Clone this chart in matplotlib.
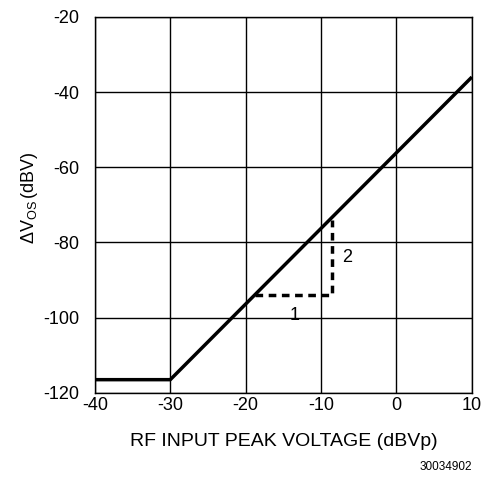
import matplotlib.pyplot as plt

plt.rcParams['font.family'] = ['Liberation Sans', 'DejaVu Sans']
plt.rcParams['axes.unicode_minus'] = False
plt.rcParams['mathtext.fontset'] = 'custom'
plt.rcParams['mathtext.rm'] = 'Liberation Sans'

# main response curve (breakpoints)
vin = [-40, -30, 10]
dvos = [-116.5, -116.5, -36]

# dashed slope triangle
tri_x = [-18.8, -8.6, -8.6]
tri_y = [-94, -94, -74]

xticks = [-40, -30, -20, -10, 0, 10]
yticks = [-120, -100, -80, -60, -40, -20]

fig = plt.figure(figsize=(4.84, 4.82), dpi=100)
ax = fig.add_axes([0.196, 0.185, 0.779, 0.78])

ax.plot(vin, dvos, color='black', lw=2.5, solid_capstyle='butt')
ax.plot(tri_x, tri_y, color='black', lw=2.5, ls=(0, (2.2, 1.6)))
ax.text(-13.5, -99.5, '1', fontsize=13, ha='center', va='center')
ax.text(-6.6, -84, '2', fontsize=13, ha='center', va='center')

ax.set_xlim(-40, 10)
ax.set_ylim(-120, -20)
ax.set_xticks(xticks)
ax.set_yticks(yticks)
ax.tick_params(axis='x', length=0, labelsize=13, pad=3)
ax.tick_params(axis='y', length=0, labelsize=13, pad=11)
ax.grid(True, color='black', lw=1)
for s in ax.spines.values():
    s.set_linewidth(1)

ax.set_xlabel('RF INPUT PEAK VOLTAGE (dBVp)', fontsize=14, labelpad=14)
ax.set_ylabel(r'$\Delta\mathrm{V}_{\mathrm{OS}}\,$(dBV)', fontsize=13, labelpad=8)
ax.yaxis.set_label_coords(-0.145, 0.52)
fig.text(0.975, 0.025, '30034902', fontsize=8.5, ha='right')

fig.savefig('out.png', dpi=100)
